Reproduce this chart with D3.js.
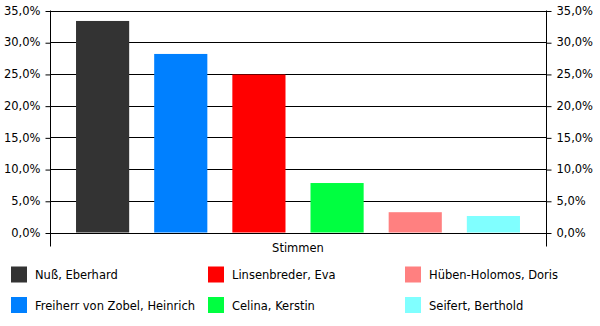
<!DOCTYPE html>
<html>
<head>
<meta charset="utf-8">
<script src="https://cdn.jsdelivr.net/npm/d3@7"></script>
<style>
  body { margin: 0; background: #fff; }
  text { font-family: "DejaVu Sans", sans-serif; font-size: 11.5px; fill: #000; }
</style>
</head>
<body>
<div id="chart"></div>
<script>
// data
var candidates = ['Nuß, Eberhard', 'Freiherr von Zobel, Heinrich', 'Linsenbreder, Eva',
                  'Celina, Kerstin', 'Hüben-Holomos, Doris', 'Seifert, Berthold'];
var shares = [33.35, 28.15, 24.9, 7.8, 3.2, 2.6];
var colors = ['#333333', '#0080ff', '#ff0000', '#00ff40', '#ff8080', '#80ffff'];
var yTicks = [0, 5, 10, 15, 20, 25, 30, 35];
var category = 'Stimmen';

var svg = d3.select('#chart').append('svg').attr('width', 600).attr('height', 326);

var plotLeft = 50, plotRight = 546, plotTop = 10.5, plotBottom = 232.5;

var y = d3.scaleLinear().domain([0, 35]).range([plotBottom, plotTop]);
var x = d3.scaleBand().domain(candidates).range([plotLeft, plotRight])
    .paddingInner(0.32).paddingOuter(0.333);

var fmt = function(d) { return d.toFixed(1).replace('.', ',') + '%'; };

// gridlines
svg.append('g').selectAll('line').data(yTicks).enter().append('line')
    .attr('x1', plotLeft).attr('x2', plotRight)
    .attr('y1', function(d) { return Math.round(y(d)) + 0.5; })
    .attr('y2', function(d) { return Math.round(y(d)) + 0.5; })
    .attr('stroke', '#000');

// bars
svg.append('g').selectAll('rect').data(candidates).enter().append('rect')
    .attr('x', function(d) { return x(d); })
    .attr('width', x.bandwidth())
    .attr('y', function(d, i) { return y(shares[i]); })
    .attr('height', function(d, i) { return plotBottom - y(shares[i]); })
    .attr('fill', function(d, i) { return colors[i]; });

// axes
var yl = d3.axisLeft(y).tickValues(yTicks).tickFormat(fmt).tickSize(5).tickPadding(5);
var yr = d3.axisRight(y).tickValues(yTicks).tickFormat(fmt).tickSize(5).tickPadding(5);
var gl = svg.append('g').attr('transform', 'translate(' + (plotLeft + 0.5) + ',0)').call(yl);
var gr = svg.append('g').attr('transform', 'translate(' + (plotRight + 0.5) + ',0)').call(yr);
[gl, gr].forEach(function(g) {
    g.select('.domain').remove();
    g.selectAll('line').attr('transform', 'translate(0,0.5)');
    g.selectAll('text').style('font-family', '"DejaVu Sans", sans-serif').style('font-size', '11.5px');
});

// vertical axis lines, extending below as category tick marks
[plotLeft, plotRight].forEach(function(xx) {
    svg.append('line').attr('x1', xx + 0.5).attr('x2', xx + 0.5)
        .attr('y1', plotTop).attr('y2', plotBottom + 14).attr('stroke', '#000');
});

svg.append('text').attr('x', (plotLeft + plotRight) / 2).attr('y', 252)
    .attr('text-anchor', 'middle').text(category);

// legend
var legX = [11, 208, 405], legY = [266.5, 297];
var leg = svg.append('g').selectAll('g').data(candidates).enter().append('g')
    .attr('transform', function(d, i) {
        return 'translate(' + legX[Math.floor(i / 2)] + ',' + legY[i % 2] + ')';
    });
leg.append('rect').attr('width', 16).attr('height', 16)
    .attr('fill', function(d, i) { return colors[i]; });
leg.append('text').attr('x', 24).attr('y', 12.5).text(function(d) { return d; });
</script>
</body>
</html>
